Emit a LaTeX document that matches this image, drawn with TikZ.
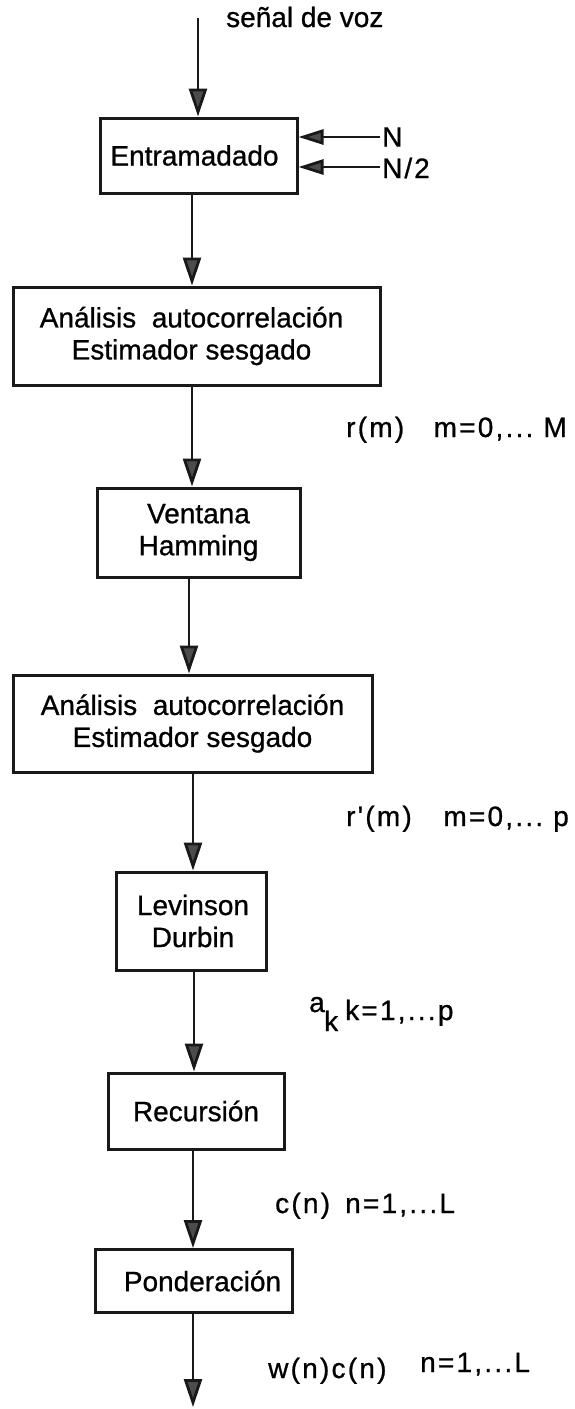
\documentclass[tikz,border=0pt]{standalone}
\usepackage{fontspec}
\setmainfont{Liberation Sans}[FakeBold=0.8]
\newfontfamily\lspfont[LetterSpace=8,FakeBold=0.8]{Liberation Sans}
\usetikzlibrary{arrows.meta,calc}
\newcommand\boxfs{\fontsize{28}{32}\selectfont}
\newcommand\lblfs{\lspfont\fontsize{28}{32}\selectfont}
\begin{document}
\begin{tikzpicture}[x=1pt,y=-1pt,
  blk/.style={draw=black!90, line width=3pt, inner sep=0pt, align=center, font=\boxfs},
  lbl/.style={inner sep=0pt, font=\lblfs},
  plainlbl/.style={inner sep=0pt, font=\boxfs},
  flow/.style={line width=2.8pt, draw=black!90, -{Triangle[length=28pt,width=18pt,fill=black!70]}},
  side/.style={line width=2.8pt, draw=black!90, -{Triangle[length=25pt,width=15pt,fill=black!70]}}]
\useasboundingbox (0,0) rectangle (575,1409);
% boxes
\node[blk,minimum width=197pt,minimum height=75pt] (ent) at (198.5,155.5) {Entramadado\hspace*{8pt}};
\node[blk,minimum width=367pt,minimum height=98pt] (ac1) at (196.5,336) {An\'alisis\ \ autocorrelaci\'on\hspace*{10pt}\\Estimador sesgado\hspace*{10pt}};
\node[blk,minimum width=203pt,minimum height=89pt] (ham) at (198.5,532.5) {Ventana\\Hamming};
\node[blk,minimum width=359pt,minimum height=97pt] (ac2) at (192.5,723.5) {An\'alisis\ \ autocorrelaci\'on\\Estimador sesgado};
\node[blk,minimum width=150pt,minimum height=98pt] (lev) at (191,921) {\hspace*{4pt}Levinson\\\hspace*{4pt}Durbin};
\node[blk,minimum width=176pt,minimum height=76pt] (rec) at (196,1111) {Recursi\'on};
\node[blk,minimum width=197pt,minimum height=63pt] (pon) at (193.5,1281) {\hspace*{18pt}Ponderaci\'on};
% arrow columns
\coordinate (in) at (198,18);
\coordinate (c1) at (192,0);
\coordinate (c2) at (192,0);
\coordinate (c3) at (189,0);
\coordinate (c4) at (193,0);
\coordinate (c5) at (194,0);
\coordinate (c6) at (193,0);
\coordinate (out) at (193,1407);
\draw[flow] (in) -- (in |- ent.north);
\draw[flow] (ent.south -| c1) -- (ac1.north -| c1);
\draw[flow] (ac1.south -| c2) -- (ham.north -| c2);
\draw[flow] (ham.south -| c3) -- (ac2.north -| c3);
\draw[flow] (ac2.south -| c4) -- (lev.north -| c4);
\draw[flow] (lev.south -| c5) -- (rec.north -| c5);
\draw[flow] (rec.south -| c6) -- (pon.north -| c6);
\draw[flow] (pon.south -| out) -- (out);
% side inputs
\coordinate (nA) at (380,137);
\coordinate (nB) at (380,167);
\draw[side] (nA) -- (nA -| ent.east);
\draw[side] (nB) -- (nB -| ent.east);
\node[plainlbl,anchor=west] (nlab) at (382,137) {N};
\node[plainlbl,anchor=west] (n2lab) at (382,168) {N\kern2pt/\kern2pt2};
% labels
\node[plainlbl,anchor=base west] (sig) at (226,27) {se\~nal de voz};
\node[lbl,anchor=base west] (rm) at (346,437) {r(m)};
\node[lbl,anchor=base east] (rmr) at (567,437) {m=0,...\ M};
\node[lbl,anchor=base west] (rpm) at (346,826) {r'(m)};
\node[lbl,anchor=base east] (rpmr) at (569,826) {m=0,...\ p};
\node[lbl,anchor=base west] (ak) at (309,1012) {a};
\node[lbl,anchor=base west] (akk) at (324,1031) {k};
\node[lbl,anchor=base west] (akr) at (345,1020) {k=1,...p};
\node[lbl,anchor=base west] (cn) at (275,1213) {c(n)};
\node[lbl,anchor=base west] (cnr) at (345,1213) {n=1,...L};
\node[lbl,anchor=base west] (wn) at (268,1378) {w(n)c(n)};
\node[lbl,anchor=base west] (wnr) at (420,1372) {n=1,...L};
\end{tikzpicture}
\end{document}
